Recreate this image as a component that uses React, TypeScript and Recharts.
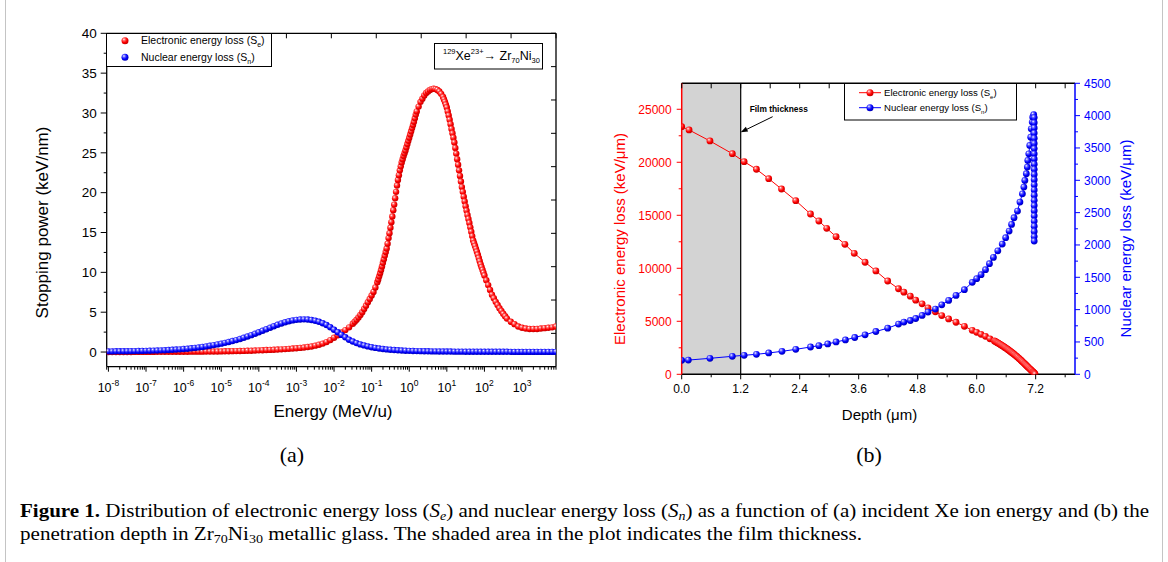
import React from "react";
import { ScatterChart, Scatter, XAxis, YAxis, ReferenceArea, ReferenceLine } from "recharts";

const SANS = "'Liberation Sans', Arial, Helvetica, sans-serif";
const SERIF = "'Liberation Serif', 'Times New Roman', serif";

// (a) stopping power vs incident energy; energies stored as powers of ten (MeV/u)
// electronic loss: denser sampling on the steep flanks of the peak
const seExp = [
  -8.0, -7.9, -7.8, -7.7, -7.6, -7.5, -7.4, -7.3, -7.2, -7.1,
  -7.0, -6.9, -6.8, -6.7, -6.6, -6.5, -6.4, -6.3, -6.2, -6.1,
  -6.0, -5.9, -5.8, -5.7, -5.6, -5.5, -5.4, -5.3, -5.2, -5.1,
  -5.0, -4.9, -4.8, -4.7, -4.6, -4.5, -4.4, -4.3, -4.2, -4.1,
  -4.0, -3.9, -3.8, -3.7, -3.6, -3.5, -3.4, -3.3, -3.2, -3.1,
  -3.0, -2.9, -2.8, -2.7, -2.6, -2.5, -2.4, -2.3, -2.2, -2.1,
  -2.0, -1.9, -1.8, -1.7, -1.6,
  -1.5, -1.45, -1.4, -1.35, -1.3, -1.25, -1.2, -1.15, -1.1, -1.05, -1.0, -0.95, -0.9, -0.85,
  -0.825, -0.8, -0.775, -0.75, -0.725, -0.7, -0.675, -0.65, -0.625, -0.6, -0.575, -0.55, -0.525, -0.5,
  -0.475, -0.45, -0.425, -0.4, -0.375, -0.35, -0.325, -0.3, -0.275, -0.25, -0.225, -0.2, -0.175, -0.15,
  -0.125, -0.1, -0.075, -0.05, -0.025, 0.0, 0.025, 0.05, 0.075, 0.1, 0.125, 0.15, 0.175, 0.2,
  0.25, 0.3, 0.35, 0.4, 0.45, 0.5, 0.55, 0.6, 0.65, 0.7, 0.75, 0.8, 0.85, 0.9,
  0.925, 0.95, 0.975, 1.0, 1.025, 1.05, 1.075, 1.1, 1.125, 1.15, 1.175, 1.2, 1.225, 1.25,
  1.275, 1.3, 1.325, 1.35, 1.375, 1.4, 1.425, 1.45, 1.475, 1.5, 1.525, 1.55, 1.575, 1.6,
  1.625, 1.65, 1.675, 1.7, 1.725, 1.75, 1.775, 1.8, 1.825, 1.85, 1.875, 1.9, 1.925, 1.95, 1.975, 2.0,
  2.05, 2.1, 2.15, 2.2, 2.25, 2.3, 2.35, 2.4, 2.45, 2.5, 2.55, 2.6,
  2.7, 2.8, 2.9, 3.0, 3.1, 3.2, 3.3, 3.4, 3.5, 3.6, 3.7, 3.8, 3.9,
];
const seEnergy = [
  0.0, 0.0, 0.01, 0.01, 0.01, 0.01, 0.01, 0.02, 0.02, 0.02,
  0.02, 0.02, 0.02, 0.03, 0.03, 0.03, 0.03, 0.03, 0.04, 0.04,
  0.04, 0.04, 0.05, 0.05, 0.05, 0.05, 0.06, 0.06, 0.07, 0.07,
  0.08, 0.09, 0.1, 0.11, 0.12, 0.13, 0.14, 0.16, 0.17, 0.19,
  0.21, 0.23, 0.25, 0.27, 0.29, 0.31, 0.34, 0.37, 0.4, 0.44,
  0.48, 0.52, 0.57, 0.63, 0.7, 0.8, 0.92, 1.06, 1.25, 1.5,
  1.8, 2.1, 2.45, 2.75, 3.1,
  3.55, 3.8, 4.05, 4.35, 4.65, 5.0, 5.4, 5.8, 6.25, 6.65, 7.1, 7.55, 8.1, 8.75,
  9.1, 9.5, 9.9, 10.3, 10.75, 11.2, 11.65, 12.1, 12.55, 13.0, 13.6, 14.3, 14.9, 15.6,
  16.3, 17.0, 17.8, 18.5, 19.3, 20.1, 20.9, 21.6, 22.2, 22.8, 23.3, 23.8, 24.2, 24.6,
  24.95, 25.3, 25.7, 26.1, 26.5, 26.9, 27.3, 27.7, 28.1, 28.5, 28.9, 29.35, 29.8, 30.2,
  30.8, 31.4, 31.8, 32.2, 32.5, 32.7, 32.9, 33.0, 33.05, 33.0, 32.9, 32.7, 32.4, 32.0,
  31.7, 31.4, 31.05, 30.7, 30.2, 29.7, 29.15, 28.6, 28.0, 27.45, 26.9, 26.3, 25.6, 24.9,
  24.2, 23.5, 22.8, 22.1, 21.4, 20.7, 20.1, 19.5, 18.9, 18.3, 17.75, 17.2, 16.7, 16.2,
  15.65, 15.1, 14.55, 14.0, 13.65, 13.3, 12.95, 12.6, 12.2, 11.8, 11.4, 11.0, 10.65, 10.3, 9.95, 9.6,
  9.0, 8.4, 7.8, 7.2, 6.75, 6.3, 5.9, 5.5, 5.15, 4.8, 4.5, 4.2,
  3.8, 3.5, 3.2, 3.05, 2.95, 2.9, 2.9, 2.9, 2.95, 3.0, 3.05, 3.1, 3.2,
];
// nuclear loss on a 0.1-decade grid
const snExp = [
  -8.0, -7.9, -7.8, -7.7, -7.6, -7.5, -7.4, -7.3, -7.2, -7.1,
  -7.0, -6.9, -6.8, -6.7, -6.6, -6.5, -6.4, -6.3, -6.2, -6.1,
  -6.0, -5.9, -5.8, -5.7, -5.6, -5.5, -5.4, -5.3, -5.2, -5.1,
  -5.0, -4.9, -4.8, -4.7, -4.6, -4.5, -4.4, -4.3, -4.2, -4.1,
  -4.0, -3.9, -3.8, -3.7, -3.6, -3.5, -3.4, -3.3, -3.2, -3.1,
  -3.0, -2.9, -2.8, -2.7, -2.6, -2.5, -2.4, -2.3, -2.2, -2.1,
  -2.0, -1.9, -1.8, -1.7, -1.6, -1.5, -1.4, -1.3, -1.2, -1.1,
  -1.0, -0.9, -0.8, -0.7, -0.6, -0.5, -0.4, -0.3, -0.2, -0.1,
  0.0, 0.1, 0.2, 0.3, 0.4, 0.5, 0.6, 0.7, 0.8, 0.9,
  1.0, 1.1, 1.2, 1.3, 1.4, 1.5, 1.6, 1.7, 1.8, 1.9,
  2.0, 2.1, 2.2, 2.3, 2.4, 2.5, 2.6, 2.7, 2.8, 2.9,
  3.0, 3.1, 3.2, 3.3, 3.4, 3.5, 3.6, 3.7, 3.8, 3.9,
];
const snEnergy = [
  0.08, 0.08, 0.09, 0.09, 0.1, 0.1, 0.11, 0.12, 0.13, 0.14,
  0.15, 0.16, 0.18, 0.19, 0.21, 0.23, 0.25, 0.28, 0.31, 0.34,
  0.38, 0.42, 0.47, 0.52, 0.58, 0.64, 0.71, 0.79, 0.87, 0.96,
  1.05, 1.15, 1.26, 1.38, 1.5, 1.64, 1.79, 1.95, 2.12, 2.3,
  2.48, 2.67, 2.86, 3.05, 3.24, 3.42, 3.59, 3.74, 3.87, 3.97,
  4.04, 4.09, 4.1, 4.08, 4.02, 3.93, 3.8, 3.62, 3.4, 3.12,
  2.8, 2.48, 2.15, 1.85, 1.55, 1.32, 1.12, 0.96, 0.83, 0.71,
  0.61, 0.52, 0.44, 0.38, 0.33, 0.29, 0.25, 0.22, 0.19, 0.17,
  0.15, 0.13, 0.12, 0.11, 0.1, 0.09, 0.08, 0.08, 0.07, 0.07,
  0.06, 0.06, 0.05, 0.05, 0.05, 0.04, 0.04, 0.04, 0.04, 0.03,
  0.03, 0.03, 0.03, 0.03, 0.03, 0.03, 0.03, 0.02, 0.02, 0.02,
  0.02, 0.02, 0.02, 0.02, 0.02, 0.02, 0.02, 0.02, 0.02, 0.02,
];
const decadeExp = [-8, -7, -6, -5, -4, -3, -2, -1, 0, 1, 2, 3];
const powerTicks = [0, 2.5, 5, 7.5, 10, 12.5, 15, 17.5, 20, 22.5, 25, 27.5, 30, 32.5, 35, 37.5, 40];
const frameTicks = [0, 1, 2, 3, 4, 5, 6, 7, 8, 9, 10];

// (b) energy loss vs penetration depth (um)
const seDepth = [
  0.0, 0.15, 0.575, 1.03, 1.27, 1.52, 1.77, 2.03, 2.32, 2.62, 2.79, 2.95, 3.14, 3.32, 3.51,
  3.73, 3.95, 4.19, 4.41, 4.52, 4.65, 4.76, 4.89, 5.01, 5.16, 5.29, 5.43, 5.58, 5.75, 5.91,
  6.0, 6.09, 6.18, 6.27, 6.36, 6.38, 6.4, 6.42, 6.44, 6.46, 6.48, 6.5, 6.52, 6.54, 6.56,
  6.58, 6.6, 6.62, 6.64, 6.66, 6.68, 6.7, 6.72, 6.74, 6.76, 6.78, 6.8, 6.82, 6.84, 6.86,
  6.88, 6.9, 6.92, 6.94, 6.96, 6.98, 7.0, 7.02, 7.04, 7.06, 7.08, 7.1, 7.12, 7.14, 7.15,
  7.16, 7.17, 7.18, 7.19,
];
const seLoss = [
  23360, 23050, 22010, 20810, 20060, 19340, 18450, 17480, 16380, 15120, 14460, 13770, 12980, 12260, 11410,
  10570, 9750, 8800, 8070, 7750, 7370, 6990, 6650, 6270, 5890, 5540, 5220, 4910, 4530, 4150,
  3960, 3770, 3580, 3350, 3150, 3100, 3040, 2985, 2930, 2875, 2820, 2760, 2700, 2640, 2580,
  2515, 2450, 2385, 2320, 2250, 2180, 2110, 2040, 1965, 1890, 1815, 1740, 1660, 1580, 1495,
  1410, 1325, 1240, 1150, 1060, 970, 880, 790, 700, 610, 520, 430, 340, 240, 195,
  150, 100, 50, 0,
];
const snDepth = [
  0.0, 0.135, 0.575, 1.03, 1.27, 1.52, 1.77, 2.04, 2.32, 2.62, 2.79, 2.97, 3.14, 3.33, 3.52,
  3.73, 3.95, 4.19, 4.41, 4.52, 4.65, 4.76, 4.89, 5.01, 5.16, 5.29, 5.43, 5.58, 5.75, 5.91,
  6.0, 6.09, 6.18, 6.26, 6.34, 6.43, 6.52, 6.59, 6.66, 6.71, 6.76, 6.83, 6.88, 6.93, 6.96,
  6.98, 7.01, 7.03, 7.04, 7.06, 7.08, 7.1, 7.11, 7.13, 7.14, 7.16,
  7.17, 7.17, 7.17, 7.17, 7.17, 7.17, 7.17, 7.17, 7.17, 7.17, 7.17, 7.17, 7.17,
  7.17, 7.17, 7.17, 7.17, 7.17, 7.17, 7.17, 7.17, 7.17, 7.17, 7.17, 7.17,
];
const snLoss = [
  216, 220, 247, 278, 294, 309, 330, 355, 386, 422, 443, 469, 500, 532, 569,
  610, 662, 713, 776, 807, 832, 863, 910, 962, 1008, 1075, 1143, 1220, 1308, 1422,
  1479, 1541, 1618, 1710, 1808, 1910, 2014, 2112, 2215, 2318, 2421, 2524, 2663, 2791, 2895,
  2998, 3101, 3204, 3307, 3410, 3539, 3667, 3796, 3900, 3977, 4015,
  3970, 3890, 3810, 3730, 3650, 3570, 3490, 3410, 3330, 3250, 3170, 3090, 3010,
  2930, 2850, 2770, 2690, 2610, 2530, 2450, 2370, 2290, 2210, 2130, 2060,
];
const depthTicks = [0, 0.6, 1.2, 1.8, 2.4, 3.0, 3.6, 4.2, 4.8, 5.4, 6.0, 6.6, 7.2, 7.8];
const seLossTicks = [0, 2500, 5000, 7500, 10000, 12500, 15000, 17500, 20000, 22500, 25000];
const snLossTicks = [
  0, 250, 500, 750, 1000, 1250, 1500, 1750, 2000, 2250, 2500, 2750, 3000, 3250, 3500, 3750, 4000, 4250, 4500,
];

const energyTicks = [9e-9, ...decadeExp.flatMap((k) => [1, 2, 3, 4, 5, 6, 7, 8, 9].map((m) => m * 10 ** k))].filter(
  (v) => v <= 8000
);
const seEnergyPts = seEnergy.map((y, i) => ({ x: 10 ** seExp[i], y }));
const snEnergyPts = snEnergy.map((y, i) => ({ x: 10 ** snExp[i], y }));
const seDepthPts = seLoss.map((y, i) => ({ x: seDepth[i], y }));
const snDepthPts = snLoss.map((y, i) => ({ x: snDepth[i], y }));
// invisible anchors so the mirrored frame axes get a domain and are drawn
const frameA = [
  { x: 0, y: 0 },
  { x: 10, y: 10 },
];
const frameB = [
  { x: 0, y: 0 },
  { x: 8, y: 0 },
];

const ball = (id: string, r: number) => (p: any) =>
  p.cx == null ? <g /> : <circle cx={p.cx} cy={p.cy} r={r} fill={`url(#${id})`} />;
const nothing = () => <g />;

const EnergyTick = (p: any) => {
  const e = Math.log10(p.payload.value);
  const major = Math.abs(e - Math.round(e)) < 1e-6;
  return (
    <g>
      <line x1={p.x} x2={p.x} y1={p.y} y2={p.y + (major ? 5 : 3)} stroke="#000" />
      {major && (
        <text x={p.x} y={p.y + 25} textAnchor="middle" fontFamily={SANS} fontSize={12.5} fill="#000">
          10
          <tspan dy={-6} fontSize={8.5}>
            {Math.round(e)}
          </tspan>
        </text>
      )}
    </g>
  );
};

const PowerTick = (p: any) => {
  const v = p.payload.value;
  const major = v % 5 === 0;
  return (
    <g>
      <line x1={p.x - (major ? 6 : 3)} x2={p.x} y1={p.y} y2={p.y} stroke="#000" />
      {major && (
        <text x={p.x - 10} y={p.y + 4.8} textAnchor="end" fontFamily={SANS} fontSize={13.5} fill="#000">
          {v}
        </text>
      )}
    </g>
  );
};

const TopInTick = (p: any) => <line x1={p.x} x2={p.x} y1={p.y} y2={p.y + 5} stroke="#000" />;
const RightInTick = (p: any) => <line x1={p.x} x2={p.x - 5} y1={p.y} y2={p.y} stroke="#000" />;

const DepthTick = (p: any) => {
  const v = p.payload.value;
  const major = Math.abs(v / 1.2 - Math.round(v / 1.2)) < 1e-6;
  return (
    <g>
      <line x1={p.x} x2={p.x} y1={p.y} y2={p.y + (major ? 5 : 3)} stroke="#000" />
      {major && (
        <text x={p.x} y={p.y + 19} textAnchor="middle" fontFamily={SANS} fontSize={12} fill="#000">
          {v.toFixed(1)}
        </text>
      )}
    </g>
  );
};

const SeTick = (p: any) => {
  const v = p.payload.value;
  const major = v % 5000 === 0;
  return (
    <g>
      <line x1={p.x - (major ? 5 : 3)} x2={p.x} y1={p.y} y2={p.y} stroke="#ff0000" />
      {major && (
        <text x={p.x - 10} y={p.y + 4.4} textAnchor="end" fontFamily={SANS} fontSize={12} fill="#ff0000">
          {v}
        </text>
      )}
    </g>
  );
};

const SnTick = (p: any) => {
  const v = p.payload.value;
  const major = v % 500 === 0;
  return (
    <g>
      <line x1={p.x} x2={p.x + (major ? 5 : 3)} y1={p.y} y2={p.y} stroke="#0000ff" />
      {major && (
        <text x={p.x + 9} y={p.y + 4.4} textAnchor="start" fontFamily={SANS} fontSize={12} fill="#0000ff">
          {v}
        </text>
      )}
    </g>
  );
};

const FilmArrow = (p: any) => {
  const { x1, y1, x2, y2 } = p;
  const ang = Math.atan2(y2 - y1, x2 - x1);
  const L = 7;
  const W = 2.6;
  const bx = x2 - L * Math.cos(ang);
  const by = y2 - L * Math.sin(ang);
  const nx = -Math.sin(ang) * W;
  const ny = Math.cos(ang) * W;
  return (
    <g>
      <line x1={x1} y1={y1} x2={bx} y2={by} stroke="#000" strokeWidth={1} />
      <polygon points={`${x2},${y2} ${bx + nx},${by + ny} ${bx - nx},${by - ny}`} fill="#000" />
      <text x={x1 - 23} y={y1 - 4.5} fontFamily={SANS} fontSize={8.4} fontWeight="bold" fill="#000">
        Film thickness
      </text>
    </g>
  );
};

function EnergyPanel() {
  return (
    <ScatterChart width={580} height={430} margin={{ top: 32.3, right: 23, bottom: 33.3, left: 46.7 }}>
      <XAxis
        xAxisId="e"
        dataKey="x"
        type="number"
        scale="log"
        domain={[9e-9, 8000]}
        ticks={energyTicks}
        interval={0}
        tickSize={0}
        tickMargin={0}
        tickLine={false}
        tick={EnergyTick}
        axisLine={{ stroke: "#000", strokeWidth: 1.3 }}
        height={30}
        allowDataOverflow
      />
      <XAxis
        xAxisId="top"
        orientation="top"
        dataKey="x"
        type="number"
        domain={[0, 10]}
        ticks={frameTicks}
        interval={0}
        tickSize={0}
        tickMargin={0}
        tickLine={false}
        tick={TopInTick}
        axisLine={{ stroke: "#000", strokeWidth: 1.3 }}
        height={1}
        allowDataOverflow
      />
      <YAxis
        yAxisId="p"
        dataKey="y"
        type="number"
        domain={[-1.84, 40]}
        ticks={powerTicks}
        interval={0}
        tickSize={0}
        tickMargin={0}
        tickLine={false}
        tick={PowerTick}
        axisLine={{ stroke: "#000", strokeWidth: 1.3 }}
        width={60}
        allowDataOverflow
      />
      <YAxis
        yAxisId="r"
        orientation="right"
        dataKey="y"
        type="number"
        domain={[0, 10]}
        ticks={frameTicks}
        interval={0}
        tickSize={0}
        tickMargin={0}
        tickLine={false}
        tick={RightInTick}
        axisLine={{ stroke: "#000", strokeWidth: 1.3 }}
        width={1}
        allowDataOverflow
      />
      <Scatter xAxisId="top" yAxisId="r" data={frameA} shape={nothing} isAnimationActive={false} />
      <Scatter xAxisId="e" yAxisId="p" data={seEnergyPts} shape={ball("ballRed", 3.2)} isAnimationActive={false} />
      <Scatter xAxisId="e" yAxisId="p" data={snEnergyPts} shape={ball("ballBlue", 3.2)} isAnimationActive={false} />
    </ScatterChart>
  );
}

function DepthPanel() {
  return (
    <ScatterChart width={578} height={400} margin={{ top: 42.3, right: 33, bottom: 35.7, left: 31.7 }}>
      <XAxis
        xAxisId="x"
        dataKey="x"
        type="number"
        domain={[0, 8]}
        ticks={depthTicks}
        interval={0}
        tickSize={0}
        tickMargin={0}
        tickLine={false}
        tick={DepthTick}
        axisLine={{ stroke: "#000", strokeWidth: 1.5 }}
        height={30}
        allowDataOverflow
      />
      <XAxis
        xAxisId="top"
        orientation="top"
        dataKey="x"
        type="number"
        domain={[0, 8]}
        ticks={depthTicks}
        interval={0}
        tickSize={0}
        tickMargin={0}
        tickLine={false}
        tick={TopInTick}
        axisLine={{ stroke: "#000", strokeWidth: 1.5 }}
        height={1}
        allowDataOverflow
      />
      <YAxis
        yAxisId="left"
        dataKey="y"
        type="number"
        domain={[0, 27450]}
        ticks={seLossTicks}
        interval={0}
        tickSize={0}
        tickMargin={0}
        tickLine={false}
        tick={SeTick}
        axisLine={{ stroke: "#ff0000", strokeWidth: 1.5 }}
        width={60}
        allowDataOverflow
      />
      <YAxis
        yAxisId="right"
        orientation="right"
        dataKey="y"
        type="number"
        domain={[0, 4500]}
        ticks={snLossTicks}
        interval={0}
        tickSize={0}
        tickMargin={0}
        tickLine={false}
        tick={SnTick}
        axisLine={{ stroke: "#0000ff", strokeWidth: 1.5 }}
        width={60}
        allowDataOverflow
      />
      <ReferenceArea xAxisId="x" yAxisId="left" x1={0} x2={1.2} fill="#d3d3d3" fillOpacity={1} stroke="none" />
      <ReferenceLine xAxisId="x" yAxisId="left" x={1.2} stroke="#000" strokeWidth={1.2} />
      <ReferenceLine
        xAxisId="x"
        yAxisId="left"
        segment={[
          { x: 1.85, y: 24300 },
          { x: 1.2, y: 22830 },
        ]}
        shape={FilmArrow}
      />
      <Scatter xAxisId="top" yAxisId="left" data={frameB} shape={nothing} isAnimationActive={false} />
      <Scatter
        xAxisId="x"
        yAxisId="left"
        data={seDepthPts}
        line={{ stroke: "#ff0000", strokeWidth: 1 }}
        lineType="joint"
        shape={ball("ballRed", 3.4)}
        isAnimationActive={false}
      />
      <Scatter
        xAxisId="x"
        yAxisId="right"
        data={snDepthPts}
        line={{ stroke: "#0000ff", strokeWidth: 1 }}
        lineType="joint"
        shape={ball("ballBlue", 3.4)}
        isAnimationActive={false}
      />
    </ScatterChart>
  );
}

function Overlay() {
  const sub = 7;
  return (
    <svg width={1168} height={562} style={{ position: "absolute", left: 0, top: 0, pointerEvents: "none" }}>
      {/* figure frame */}
      <line x1={5.5} x2={5.5} y1={0} y2={562} stroke="#c4c4c4" />
      <line x1={1162.5} x2={1162.5} y1={0} y2={562} stroke="#c4c4c4" />

      {/* (a) legend */}
      <rect x={106.5} y={33.5} width={165} height={33} fill="#fff" stroke="#000" />
      <circle cx={125} cy={40.7} r={3.5} fill="url(#ballRed)" />
      <circle cx={125} cy={57.3} r={3.5} fill="url(#ballBlue)" />
      <text x={141} y={44.4} fontFamily={SANS} fontSize={10.5} fill="#000">
        Electronic energy loss (S
        <tspan fontSize={sub} dy={2.5}>e</tspan>
        <tspan dy={-2.5}>)</tspan>
      </text>
      <text x={141} y={61} fontFamily={SANS} fontSize={10.5} fill="#000">
        Nuclear energy loss (S
        <tspan fontSize={sub} dy={2.5}>n</tspan>
        <tspan dy={-2.5}>)</tspan>
      </text>

      {/* (a) ion label */}
      <rect x={434.5} y={43.5} width={108} height={25.5} fill="#fff" stroke="#000" />
      <text x={443} y={60} fontFamily={SANS} fontSize={12.5} fill="#000">
        <tspan fontSize={7.5} dy={-6}>129</tspan>
        <tspan dy={6}>Xe</tspan>
        <tspan fontSize={7.5} dy={-6}>23+</tspan>
        <tspan dy={6}>{"\u2192 Zr"}</tspan>
        <tspan fontSize={7.5} dy={3}>70</tspan>
        <tspan dy={-3}>Ni</tspan>
        <tspan fontSize={7.5} dy={3}>30</tspan>
      </text>

      {/* (a) axis titles */}
      <text
        transform="translate(42.5,222.5) rotate(-90)"
        textAnchor="middle"
        dominantBaseline="central"
        fontFamily={SANS}
        fontSize={17}
        fill="#000"
      >
        Stopping power (keV/nm)
      </text>
      <text x={333} y={417} textAnchor="middle" fontFamily={SANS} fontSize={17} fill="#000">
        Energy (MeV/u)
      </text>

      {/* (b) legend */}
      <rect x={844.5} y={83.5} width={172} height={36.5} fill="#fff" stroke="#000" />
      <line x1={859} x2={881} y1={92.7} y2={92.7} stroke="#ff0000" />
      <circle cx={870} cy={92.7} r={3.5} fill="url(#ballRed)" />
      <line x1={859} x2={881} y1={107.7} y2={107.7} stroke="#0000ff" />
      <circle cx={870} cy={107.7} r={3.5} fill="url(#ballBlue)" />
      <text x={884} y={96.3} fontFamily={SANS} fontSize={9.6} fill="#000">
        Electronic energy loss (S
        <tspan fontSize={6} dy={2.5}>e</tspan>
        <tspan dy={-2.5}>)</tspan>
      </text>
      <text x={884} y={111.3} fontFamily={SANS} fontSize={9.6} fill="#000">
        Nuclear energy loss (S
        <tspan fontSize={6} dy={2.5}>n</tspan>
        <tspan dy={-2.5}>)</tspan>
      </text>

      {/* (b) axis titles */}
      <text
        transform="translate(619.5,239) rotate(-90)"
        textAnchor="middle"
        dominantBaseline="central"
        fontFamily={SANS}
        fontSize={15}
        fill="#ff0000"
      >
        Electronic energy loss (keV/{"\u03bc"}m)
      </text>
      <text
        transform="translate(1125,238.5) rotate(-90)"
        textAnchor="middle"
        dominantBaseline="central"
        fontFamily={SANS}
        fontSize={15}
        fill="#0000ff"
      >
        Nuclear energy loss (keV/{"\u03bc"}m)
      </text>
      <text x={879.5} y={419.5} textAnchor="middle" fontFamily={SANS} fontSize={15} fill="#000">
        Depth ({"\u03bc"}m)
      </text>

      {/* panel letters */}
      <text x={292} y={462} textAnchor="middle" fontFamily={SERIF} fontSize={22} fill="#000">
        (a)
      </text>
      <text x={869} y={462} textAnchor="middle" fontFamily={SERIF} fontSize={22} fill="#000">
        (b)
      </text>

      {/* caption */}
      <text x={20} y={517} fontFamily={SERIF} fontSize={18} fill="#000" textLength={1129} lengthAdjust="spacingAndGlyphs">
        <tspan fontWeight="bold">Figure 1.</tspan>
        <tspan>{" Distribution of electronic energy loss ("}</tspan>
        <tspan fontStyle="italic">S</tspan>
        <tspan fontStyle="italic" fontSize={12} dy={3}>e</tspan>
        <tspan dy={-3}>{") and nuclear energy loss ("}</tspan>
        <tspan fontStyle="italic">S</tspan>
        <tspan fontStyle="italic" fontSize={12} dy={3}>n</tspan>
        <tspan dy={-3}>{") as a function of (a) incident Xe ion energy and (b) the"}</tspan>
      </text>
      <text x={20} y={540} fontFamily={SERIF} fontSize={18} fill="#000" textLength={842} lengthAdjust="spacingAndGlyphs">
        <tspan>penetration depth in Zr</tspan>
        <tspan fontSize={12} dy={3}>70</tspan>
        <tspan dy={-3}>Ni</tspan>
        <tspan fontSize={12} dy={3}>30</tspan>
        <tspan dy={-3}>{" metallic glass. The shaded area in the plot indicates the film thickness."}</tspan>
      </text>
    </svg>
  );
}

export default function App() {
  return (
    <div
      style={{
        position: "absolute",
        left: 0,
        top: 0,
        width: 1168,
        height: 562,
        background: "#fff",
        overflow: "hidden",
      }}
    >
      <svg width={0} height={0} style={{ position: "absolute" }}>
        <defs>
          <radialGradient id="ballRed" cx="0.4" cy="0.38" r="0.62" fx="0.34" fy="0.3">
            <stop offset="0" stopColor="#ffffff" />
            <stop offset="0.28" stopColor="#ff6a6a" />
            <stop offset="0.65" stopColor="#ff0000" />
            <stop offset="1" stopColor="#c40000" />
          </radialGradient>
          <radialGradient id="ballBlue" cx="0.4" cy="0.38" r="0.62" fx="0.34" fy="0.3">
            <stop offset="0" stopColor="#ffffff" />
            <stop offset="0.28" stopColor="#6a6aff" />
            <stop offset="0.65" stopColor="#0000ff" />
            <stop offset="1" stopColor="#0000b8" />
          </radialGradient>
        </defs>
      </svg>
      <div style={{ position: "absolute", left: 0, top: 0 }}>
        <EnergyPanel />
      </div>
      <div style={{ position: "absolute", left: 590, top: 40 }}>
        <DepthPanel />
      </div>
      <Overlay />
    </div>
  );
}
